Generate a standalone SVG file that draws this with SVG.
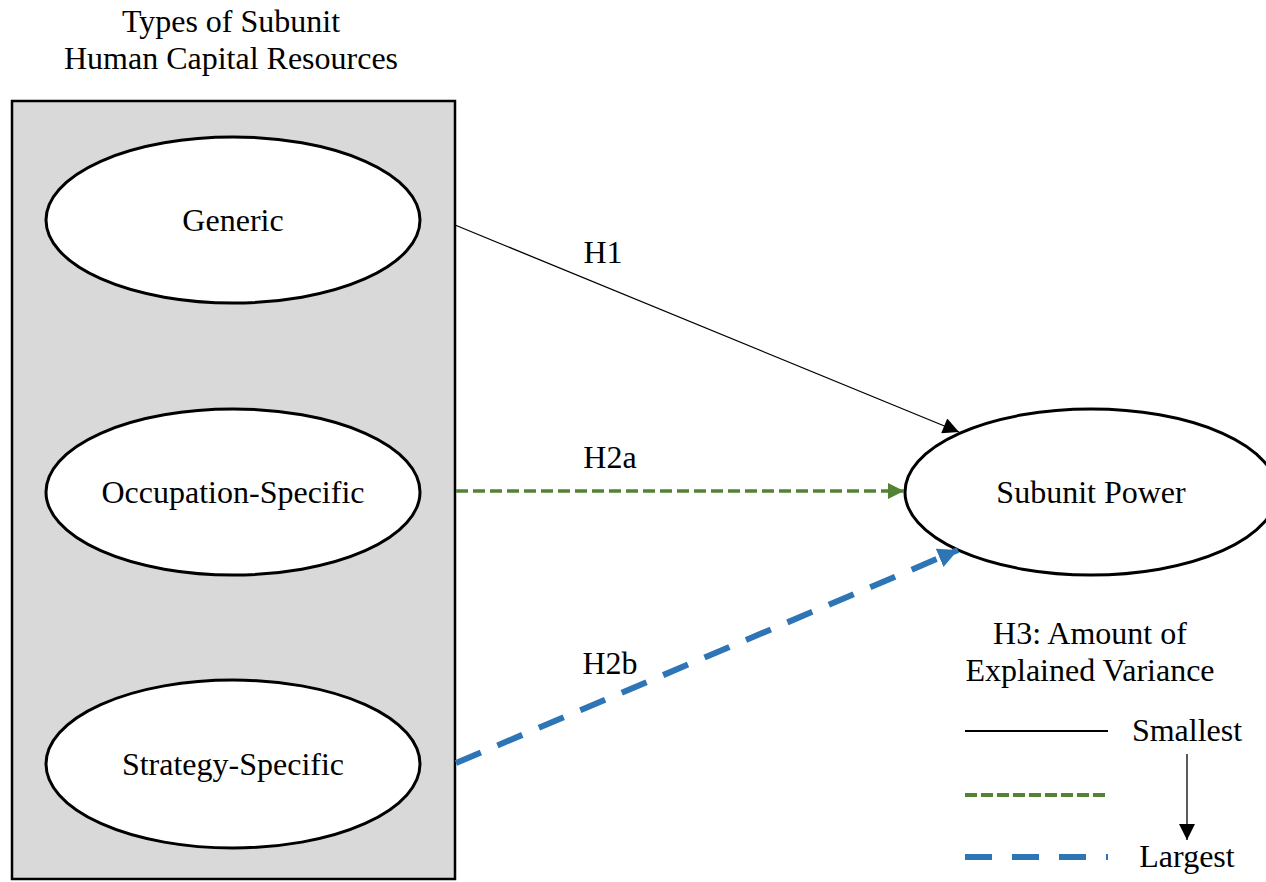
<svg xmlns="http://www.w3.org/2000/svg" width="1266" height="882" viewBox="0 0 1266 882">
<style>
text{font-family:"Liberation Serif","Times New Roman",serif;font-size:32px;fill:#000;text-anchor:middle}
.node{fill:#fff;stroke:#000;stroke-width:3}
.solid{stroke:#000;stroke-width:1.3;fill:none}
.green{stroke:#548235;stroke-width:3.5;stroke-dasharray:12 5;fill:none}
.blue{stroke:#2E75B6;stroke-width:6;stroke-dasharray:27 18;fill:none}
</style>
<defs>
<marker id="ab" viewBox="0 0 10 10" refX="10" refY="5" markerWidth="20" markerHeight="16" markerUnits="userSpaceOnUse" orient="auto"><path d="M0,0L10,5L0,10z" fill="#000"/></marker>
<marker id="ag" viewBox="0 0 10 10" refX="10" refY="5" markerWidth="16" markerHeight="16" markerUnits="userSpaceOnUse" orient="auto"><path d="M0,0L10,5L0,10z" fill="#548235"/></marker>
<marker id="abl" viewBox="0 0 10 10" refX="10" refY="5" markerWidth="20" markerHeight="22" markerUnits="userSpaceOnUse" orient="auto"><path d="M0,0L10,5L0,10z" fill="#2E75B6"/></marker>
</defs>
<g id="title">
<text x="231" y="32">Types of Subunit</text>
<text x="231" y="69">Human Capital Resources</text>
</g>
<g id="container"><rect x="12" y="101" width="443" height="778" fill="#d9d9d9" stroke="#000" stroke-width="2.5"/></g>
<g id="generic"><ellipse class="node" cx="233" cy="220" rx="187" ry="83"/><text x="233" y="231">Generic</text></g>
<g id="occupation"><ellipse class="node" cx="233" cy="492" rx="187" ry="83"/><text x="233" y="503">Occupation-Specific</text></g>
<g id="strategy"><ellipse class="node" cx="233" cy="764" rx="187" ry="84"/><text x="233" y="775">Strategy-Specific</text></g>
<g id="power"><ellipse class="node" cx="1091" cy="492" rx="186" ry="83"/><text x="1091" y="503">Subunit Power</text></g>
<g id="connectors">
<line class="solid" x1="455" y1="225" x2="959" y2="432" marker-end="url(#ab)"/>
<line class="green" x1="456" y1="491" x2="904" y2="491" marker-end="url(#ag)"/>
<line class="blue" x1="456" y1="763" x2="958" y2="550" marker-end="url(#abl)"/>
<line class="solid" x1="1187" y1="754" x2="1187" y2="840" marker-end="url(#ab)"/>
</g>
<g id="labels">
<text x="603" y="263">H1</text>
<text x="610" y="468">H2a</text>
<text x="610" y="674">H2b</text>
</g>
<g id="legend">
<text x="1090" y="644">H3: Amount of</text>
<text x="1090" y="681">Explained Variance</text>
<line x1="965" y1="731" x2="1108" y2="731" stroke="#000" stroke-width="2"/>
<line x1="965" y1="795" x2="1105" y2="795" stroke="#548235" stroke-width="4" stroke-dasharray="12 4"/>
<line x1="965" y1="857" x2="1108" y2="857" stroke="#2E75B6" stroke-width="6" stroke-dasharray="27 20"/>
<text x="1187" y="741">Smallest</text>
<text x="1187" y="867">Largest</text>
</g>
</svg>
